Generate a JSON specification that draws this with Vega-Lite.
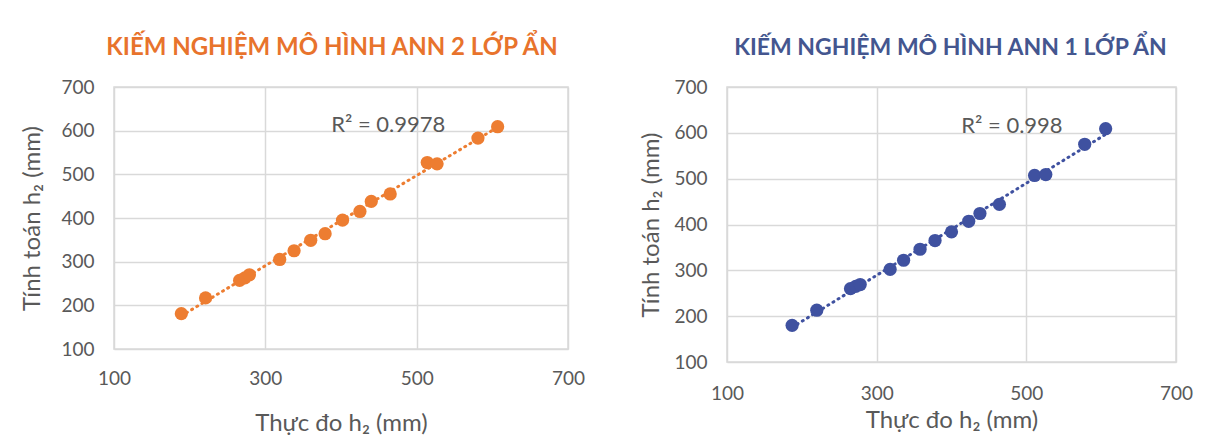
{
  "$schema": "https://vega.github.io/schema/vega-lite/v6.json",
  "background": "white",
  "padding": {"left": 20, "top": 35, "right": 10, "bottom": 5},
  "spacing": 53,
  "config": {
    "font": "Lato",
    "view": {"stroke": "#D9D9D9", "strokeWidth": 1.5},
    "axis": {
      "labelFont": "Lato", "labelFontSize": 19, "labelColor": "#595959",
      "titleFont": "Lato", "titleFontSize": 24, "titleColor": "#595959", "titleFontWeight": "normal",
      "ticks": false, "domain": false, "gridColor": "#D9D9D9", "gridWidth": 1.5,
      "labelPadding": 20, "labelFlush": false
    },
    "title": {"font": "Lato", "fontSize": 24, "fontWeight": "bold", "anchor": "middle", "frame": "group", "offset": 18}
  },
  "data": {
    "values": [
      {"model": "ANN2", "thuc_do": 189, "tinh_toan": 181},
      {"model": "ANN2", "thuc_do": 221, "tinh_toan": 217},
      {"model": "ANN2", "thuc_do": 266, "tinh_toan": 257},
      {"model": "ANN2", "thuc_do": 273, "tinh_toan": 263},
      {"model": "ANN2", "thuc_do": 279, "tinh_toan": 270},
      {"model": "ANN2", "thuc_do": 319, "tinh_toan": 305},
      {"model": "ANN2", "thuc_do": 338, "tinh_toan": 325},
      {"model": "ANN2", "thuc_do": 360, "tinh_toan": 349},
      {"model": "ANN2", "thuc_do": 379, "tinh_toan": 364},
      {"model": "ANN2", "thuc_do": 402, "tinh_toan": 395},
      {"model": "ANN2", "thuc_do": 425, "tinh_toan": 415},
      {"model": "ANN2", "thuc_do": 440, "tinh_toan": 438},
      {"model": "ANN2", "thuc_do": 465, "tinh_toan": 455},
      {"model": "ANN2", "thuc_do": 514, "tinh_toan": 527},
      {"model": "ANN2", "thuc_do": 527, "tinh_toan": 524},
      {"model": "ANN2", "thuc_do": 581, "tinh_toan": 583},
      {"model": "ANN2", "thuc_do": 607, "tinh_toan": 609},
      {"model": "ANN1", "thuc_do": 187, "tinh_toan": 180},
      {"model": "ANN1", "thuc_do": 220, "tinh_toan": 213},
      {"model": "ANN1", "thuc_do": 265, "tinh_toan": 260},
      {"model": "ANN1", "thuc_do": 272, "tinh_toan": 265},
      {"model": "ANN1", "thuc_do": 278, "tinh_toan": 269},
      {"model": "ANN1", "thuc_do": 318, "tinh_toan": 302},
      {"model": "ANN1", "thuc_do": 336, "tinh_toan": 322},
      {"model": "ANN1", "thuc_do": 358, "tinh_toan": 346},
      {"model": "ANN1", "thuc_do": 378, "tinh_toan": 365},
      {"model": "ANN1", "thuc_do": 400, "tinh_toan": 384},
      {"model": "ANN1", "thuc_do": 423, "tinh_toan": 407},
      {"model": "ANN1", "thuc_do": 438, "tinh_toan": 424},
      {"model": "ANN1", "thuc_do": 464, "tinh_toan": 444},
      {"model": "ANN1", "thuc_do": 511, "tinh_toan": 507},
      {"model": "ANN1", "thuc_do": 526, "tinh_toan": 509},
      {"model": "ANN1", "thuc_do": 578, "tinh_toan": 575},
      {"model": "ANN1", "thuc_do": 606, "tinh_toan": 609}
    ]
  },
  "hconcat": [
    {
      "width": 454, "height": 262,
      "title": {"text": "KIẾM NGHIỆM MÔ HÌNH ANN 2 LỚP ẨN", "color": "#E8732C", "dx": -9},
      "layer": [
        {
          "transform": [{"filter": "datum.model === 'ANN2'"}, {"regression": "tinh_toan", "on": "thuc_do"}],
          "mark": {"type": "line", "color": "#ED7D31", "strokeDash": [1, 5], "strokeWidth": 3, "strokeCap": "round"},
          "encoding": {
            "x": {"field": "thuc_do", "type": "quantitative", "scale": {"domain": [100, 700], "nice": false, "zero": false},
                  "axis": {"values": [100, 300, 500, 700], "title": "Thực đo h₂ (mm)", "titlePadding": 23}},
            "y": {"field": "tinh_toan", "type": "quantitative", "scale": {"domain": [100, 700], "nice": false, "zero": false},
                  "axis": {"values": [100, 200, 300, 400, 500, 600, 700], "title": "Tính toán h₂ (mm)", "titlePadding": 16}}
          }
        },
        {
          "transform": [{"filter": "datum.model === 'ANN2'"}],
          "mark": {"type": "circle", "color": "#ED7D31", "opacity": 1, "size": 175},
          "encoding": {
            "x": {"field": "thuc_do", "type": "quantitative"},
            "y": {"field": "tinh_toan", "type": "quantitative"}
          }
        },
        {
          "data": {"values": [{"label": "R² = 0.9978"}]},
          "mark": {"type": "text", "align": "left", "baseline": "middle", "fontSize": 22, "color": "#595959", "font": "Lato"},
          "encoding": {
            "x": {"datum": 387, "type": "quantitative"},
            "y": {"datum": 613, "type": "quantitative"},
            "text": {"field": "label", "type": "nominal"}
          }
        }
      ]
    },
    {
      "width": 449, "height": 275,
      "title": {"text": "KIẾM NGHIỆM MÔ HÌNH ANN 1 LỚP ẨN", "color": "#44568F", "fontSize": 23, "dx": -1},
      "layer": [
        {
          "transform": [{"filter": "datum.model === 'ANN1'"}, {"regression": "tinh_toan", "on": "thuc_do"}],
          "mark": {"type": "line", "color": "#3F51A0", "strokeDash": [1, 5], "strokeWidth": 3, "strokeCap": "round"},
          "encoding": {
            "x": {"field": "thuc_do", "type": "quantitative", "scale": {"domain": [100, 700], "nice": false, "zero": false},
                  "axis": {"values": [100, 300, 500, 700], "title": "Thực đo h₂ (mm)", "titlePadding": 5, "labelPadding": 22}},
            "y": {"field": "tinh_toan", "type": "quantitative", "scale": {"domain": [100, 700], "nice": false, "zero": false},
                  "axis": {"values": [100, 200, 300, 400, 500, 600, 700], "title": "Tính toán h₂ (mm)", "titlePadding": 10}}
          }
        },
        {
          "transform": [{"filter": "datum.model === 'ANN1'"}],
          "mark": {"type": "circle", "color": "#3F51A0", "opacity": 1, "size": 175},
          "encoding": {
            "x": {"field": "thuc_do", "type": "quantitative"},
            "y": {"field": "tinh_toan", "type": "quantitative"}
          }
        },
        {
          "data": {"values": [{"label": "R² = 0.998"}]},
          "mark": {"type": "text", "align": "left", "baseline": "middle", "fontSize": 22, "color": "#595959", "font": "Lato"},
          "encoding": {
            "x": {"datum": 413, "type": "quantitative"},
            "y": {"datum": 616, "type": "quantitative"},
            "text": {"field": "label", "type": "nominal"}
          }
        }
      ]
    }
  ]
}
